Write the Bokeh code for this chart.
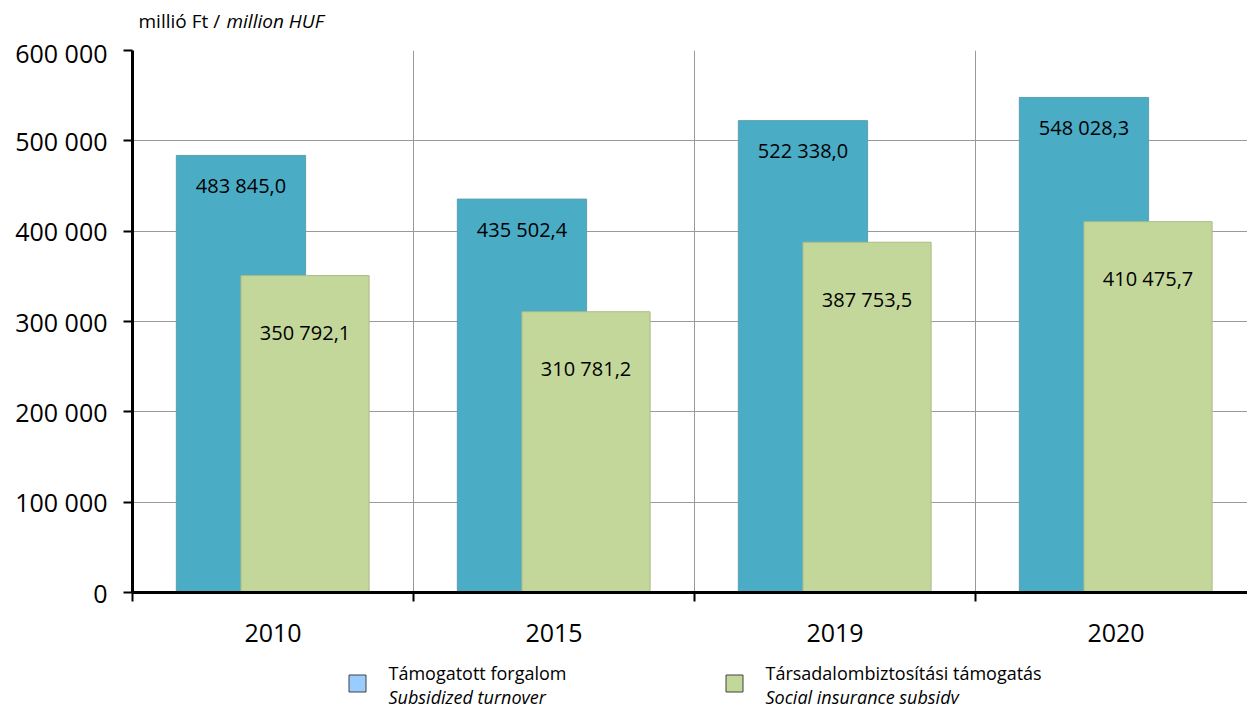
from bokeh.plotting import figure
from bokeh.layouts import column
from bokeh.models import Range1d, FixedTicker, ColumnDataSource
from bokeh.core.properties import value
from bokeh.embed import file_html
from bokeh.resources import INLINE

years = ["2010", "2015", "2019", "2020"]
turnover = [483845.0, 435502.4, 522338.0, 548028.3]
insurance = [350792.1, 310781.2, 387753.5, 410475.7]
turnover_labels = ["483 845,0", "435 502,4", "522 338,0", "548 028,3"]
insurance_labels = ["350 792,1", "310 781,2", "387 753,5", "410 475,7"]
y_ticks = [0, 100000, 200000, 300000, 400000, 500000, 600000]
y_tick_labels = ["0", "100 000", "200 000", "300 000", "400 000", "500 000", "600 000"]
legend_hu = ["Támogatott forgalom", "Társadalombiztosítási támogatás"]
legend_en = ["Subsidized turnover", "Social insurance subsidy"]
unit_hu = "millió Ft / "
unit_en = "million HUF"

FONT = "Open Sans"
BLUE = "#4bacc6"
GREEN = "#c4d79b"
FW = 1115
LEFT = 132


def strip(fig):
    fig.axis.visible = False
    fig.grid.visible = False
    fig.outline_line_color = None


# ---- top strip with the unit text
top = figure(frame_width=FW, frame_height=35, min_border_left=LEFT, min_border_right=0,
             min_border_top=0, min_border_bottom=0,
             x_range=Range1d(0, FW), y_range=Range1d(35, 0),
             output_backend="svg", toolbar_location=None)
strip(top)
top.text(x=[6], y=[20], text=[unit_hu], text_baseline="middle", text_font=value(FONT),
         text_font_size="19px", text_color="black")
top.text(x=[94], y=[20], text=[unit_en], text_baseline="middle", text_font=value(FONT),
         text_font_size="19px", text_font_style="italic", text_color="black")

# ---- main chart
centers = [i + 0.5 for i in range(len(years))]
off = 0.114
src_t = ColumnDataSource(dict(x=[c - off for c in centers], top=turnover, lab=turnover_labels))
src_i = ColumnDataSource(dict(x=[c + off for c in centers], top=insurance, lab=insurance_labels))

p = figure(frame_width=FW, frame_height=542, min_border_left=LEFT, min_border_top=15,
           min_border_bottom=62, min_border_right=0,
           x_range=Range1d(0, FW / 281), y_range=Range1d(0, 600000),
           output_backend="svg", toolbar_location=None)
p.outline_line_color = None

p.vbar(x="x", top="top", width=0.46, source=src_t, fill_color=BLUE, line_color="#5d9fae", line_width=1)
p.vbar(x="x", top="top", width=0.456, source=src_i, fill_color=GREEN, line_color="#a9bb86", line_width=1)

p.text(x="x", y="top", text="lab", source=src_t, text_align="center", text_baseline="middle",
       y_offset=30, text_font=value(FONT), text_font_size="20px", text_color="black")
p.text(x="x", y="top", text="lab", source=src_i, text_align="center", text_baseline="middle",
       y_offset=57, text_font=value(FONT), text_font_size="20px", text_color="black")

p.xaxis.ticker = FixedTicker(ticks=centers, minor_ticks=[0, 1, 2, 3, 4])
p.xaxis.major_label_overrides = {c: y for c, y in zip(centers, years)}
p.xaxis.major_tick_out = 0
p.xaxis.major_tick_in = 0
p.xaxis.minor_tick_out = 9
p.xaxis.minor_tick_in = 0
p.xaxis.minor_tick_line_color = "black"
p.xaxis.minor_tick_line_width = 2
p.xaxis.axis_line_width = 3
p.xaxis.axis_line_color = "black"
p.xaxis.major_label_text_font = FONT
p.xaxis.major_label_text_font_size = "25px"
p.xaxis.major_label_text_color = "black"
p.xaxis.major_label_standoff = 22

p.yaxis.ticker = FixedTicker(ticks=y_ticks, minor_ticks=[])
p.yaxis.major_label_overrides = {t: l for t, l in zip(y_ticks, y_tick_labels)}
p.yaxis.major_tick_out = 9
p.yaxis.major_tick_in = 0
p.yaxis.major_tick_line_width = 2
p.yaxis.minor_tick_out = 0
p.yaxis.minor_tick_in = 0
p.yaxis.axis_line_width = 3
p.yaxis.axis_line_color = "black"
p.yaxis.major_label_text_font = FONT
p.yaxis.major_label_text_font_size = "25px"
p.yaxis.major_label_text_color = "black"
p.yaxis.major_label_standoff = 16

p.xgrid.ticker = FixedTicker(ticks=[1, 2, 3, 4])
p.xgrid.grid_line_color = "#9a9a9a"
p.ygrid.grid_line_color = "#9a9a9a"
p.xgrid.level = "image"
p.ygrid.level = "image"

# ---- legend strip
lg = figure(frame_width=FW, frame_height=50, min_border_left=LEFT, min_border_right=0,
            min_border_top=0, min_border_bottom=0,
            x_range=Range1d(0, FW), y_range=Range1d(50, 0),
            output_backend="svg", toolbar_location=None)
strip(lg)
sw_x = [225, 602]
lg.rect(x=sw_x, y=[29, 29], width=17, height=17, fill_color=["#99ccff", GREEN],
        line_color="#404040", line_width=1)
lg.text(x=[x + 31 for x in sw_x], y=[18, 18], text=legend_hu, text_baseline="middle",
        text_font=value(FONT), text_font_size="18px", text_color="black")
lg.text(x=[x + 31 for x in sw_x], y=[42, 42], text=legend_en, text_baseline="middle",
        text_font=value(FONT), text_font_size="18px", text_font_style="italic", text_color="black")

layout = column(top, p, lg, spacing=0)
open("out.html", "w").write(file_html(layout, INLINE))
